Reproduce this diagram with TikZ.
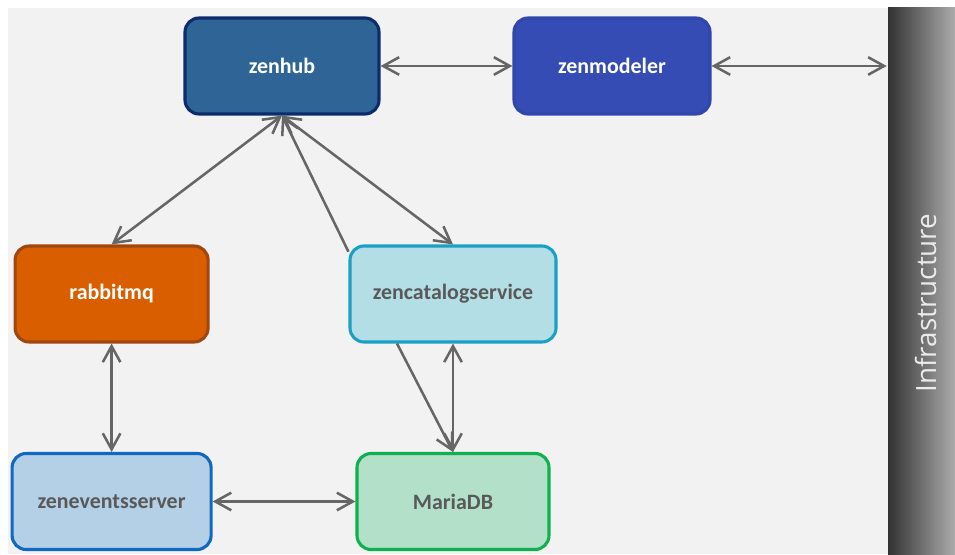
\documentclass[tikz,border=0pt]{standalone}
\usepackage{fontspec}
\setmainfont{Carlito}
\newfontfamily\infrafont{Open Sans}
\usetikzlibrary{arrows.meta}

\definecolor{bggray}{HTML}{F2F2F2}
\definecolor{linegray}{HTML}{666666}
\definecolor{textgray}{HTML}{595959}

\def\boxfont{\fontsize{15.6}{18}\selectfont\bfseries}

\begin{document}
\begin{tikzpicture}[<->,>={Straight Barb[length=4mm,width=4.4mm]},draw=linegray,line width=1.8pt]
    \tikzstyle{service}=[rectangle,rounded corners=0.35cm,minimum width=4.85cm,minimum height=2.4cm,
        inner sep=0pt,line width=2.2pt,font=\boxfont,text=textgray]
    \tikzstyle{hub}=[service,fill={rgb,255:red,47;green,101;blue,150},draw={rgb,255:red,12;green,44;blue,108},text=white]
    \tikzstyle{modeler}=[service,fill={rgb,255:red,52;green,76;blue,180},draw={rgb,255:red,48;green,70;blue,172},text=white]
    \tikzstyle{queue}=[service,fill={rgb,255:red,216;green,94;blue,0},draw={rgb,255:red,160;green,70;blue,16},text=white]
    \tikzstyle{catalog}=[service,fill={rgb,255:red,180;green,222;blue,229},draw={rgb,255:red,26;green,160;blue,195}]
    \tikzstyle{events}=[service,fill={rgb,255:red,180;green,208;blue,230},draw={rgb,255:red,16;green,104;blue,192}]
    \tikzstyle{database}=[service,fill={rgb,255:red,178;green,224;blue,200},draw={rgb,255:red,16;green,176;blue,80}]

    \useasboundingbox (0,0) rectangle (23.875,13.85);
    \fill[bggray] (0.2,0) rectangle (22.2,13.65);
    \node[rectangle,inner sep=0pt,minimum width=1.675cm,minimum height=13.65cm,
        left color={rgb,255:red,50;green,50;blue,50},right color={rgb,255:red,172;green,172;blue,172}]
        (infra) at (23.0375,6.825) {};
    \node[rotate=90,font=\infrafont\fontsize{19.8}{22}\selectfont,text={rgb,255:red,235;green,235;blue,235}]
        (infralabel) at (23.15,6.275) {Infrastructure};

    % services
    \node[hub] (zenhub) at (7.05,12.2) {zenhub};
    \node[modeler,minimum width=4.9cm] (zenmodeler) at (15.3,12.2) {zenmodeler};
    \node[queue,minimum width=4.825cm] (rabbitmq) at (2.79,6.5) {rabbitmq};
    \node[catalog,minimum width=5.15cm] (zencatalogservice) at (11.325,6.5) {zencatalogservice};
    \node[events,minimum width=4.975cm] (zeneventsserver) at (2.79,1.3125) {zeneventsserver};
    \node[database,minimum width=4.8cm] (MariaDB) at (11.325,1.3125) {MariaDB};

    \foreach \source / \dest in {zenhub.east/zenmodeler.west, zenhub.south/rabbitmq.north,
            zenhub.south/zencatalogservice.north, zencatalogservice.south/MariaDB.north,
            rabbitmq.south/zeneventsserver.north, zeneventsserver.east/MariaDB.west}
        \path (\source) edge (\dest);
    \draw (zenmodeler.east) -- (zenmodeler.east -| infra.west);
    \draw[->] (zencatalogservice.158) -- (zenhub.south);
    \draw[->] ([xshift=-1.4cm]zencatalogservice.south) -- (MariaDB.north);
\end{tikzpicture}
\end{document}
